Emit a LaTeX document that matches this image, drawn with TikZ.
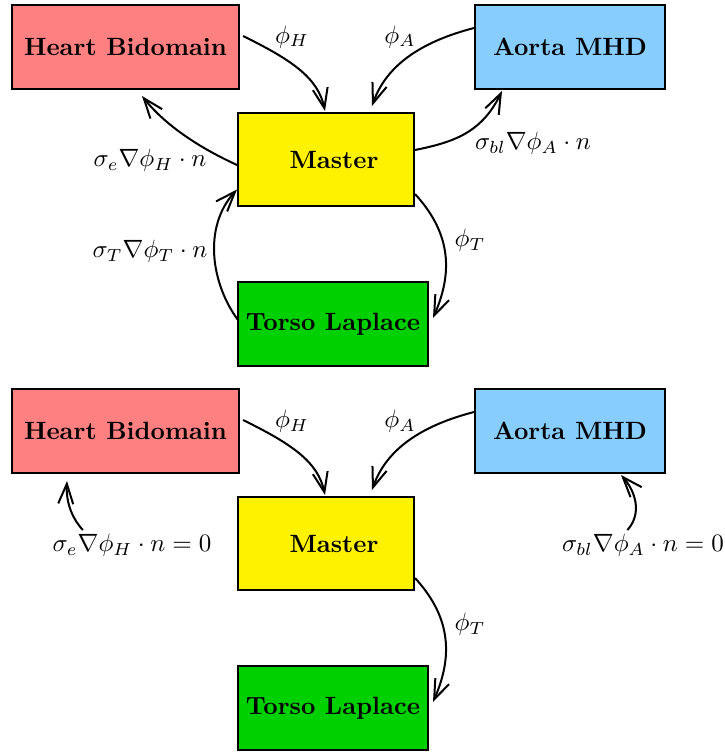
\documentclass[tikz,border=0pt]{standalone}
\usetikzlibrary{arrows.meta, calc}

\definecolor{heartred}{RGB}{255,128,128}
\definecolor{aortablue}{RGB}{135,206,255}
\definecolor{torsogreen}{RGB}{0,208,0}

\begin{document}
\begin{tikzpicture}[
        x=0.4pt, y=-0.4pt,
        every node/.style={font=\normalsize},
        >={Straight Barb[length=8pt, width=6pt]},
        solver/.style={draw, line width=0.8pt, inner sep=0pt, font=\bfseries},
        coupling/.style={->, line width=0.8pt}
    ]
    \def\px{0.4pt}
    \useasboundingbox (0,0) rectangle (725,753);

% ---------- TOP: full coupling ----------
    \node[solver, fill=heartred, minimum width=227*\px, minimum height=84*\px] (heart1) at (125.5,47) {Heart Bidomain};
    \node[solver, fill=aortablue, minimum width=190*\px, minimum height=84*\px] (aorta1) at (570,47) {Aorta MHD};
    \node[solver, fill=yellow, minimum width=176*\px, minimum height=93*\px] (master1) at (326,159.5) {\hspace{6.4pt}Master};
    \node[solver, fill=torsogreen, minimum width=190*\px, minimum height=84*\px] (torso1) at (333,324) {Torso Laplace};

    % potentials into the master
    \draw[coupling] ($(heart1.east)+(3,-11)$) .. controls (292,60) and (318,78) .. ($(master1.north)+(-1,-1)$);
    \node (potH1) at (292,37) {$\phi_H$};
    \draw[coupling] ($(aorta1.west)+(0,-19)$) .. controls (420,42) and (386,66) .. ($(master1.north)+(46,-6)$);
    \node (potA1) at (400,37) {$\phi_A$};
    \draw[coupling] ($(master1.south east)+(0,-13)$) .. controls (448,230) and (455,268) .. ($(torso1.east)+(4,-6)$);
    \node (potT1) at (470,240) {$\phi_T$};

    % fluxes back to the subdomains
    \draw[coupling] ($(master1.east)+(0,-9.5)$) .. controls (455,142) and (482,132) .. ($(aorta1.south west)+(28,1)$);
    \node (fluxA1) at (533,143) {$\sigma_{bl}\nabla\phi_A\cdot n$};
    \draw[coupling] ($(master1.west)+(0,5.5)$) .. controls (200,148) and (166,126) .. ($(heart1.south west)+(131,6)$);
    \node (fluxH1) at (150,160) {$\sigma_e\nabla\phi_H\cdot n$};
    \draw[coupling] ($(torso1.west)+(1,-4)$) .. controls (212,285) and (202,228) .. ($(master1.west)+(0,30)$);
    \node (fluxT1) at (150,251) {$\sigma_T\nabla\phi_T\cdot n$};

% ---------- BOTTOM: no-flux conditions ----------
    \begin{scope}[yshift=-384*\px]
        \node[solver, fill=heartred, minimum width=227*\px, minimum height=84*\px] (heart2) at (125.5,47) {Heart Bidomain};
        \node[solver, fill=aortablue, minimum width=190*\px, minimum height=84*\px] (aorta2) at (570,47) {Aorta MHD};
        \node[solver, fill=yellow, minimum width=176*\px, minimum height=93*\px] (master2) at (326,159.5) {\hspace{6.4pt}Master};
        \node[solver, fill=torsogreen, minimum width=190*\px, minimum height=84*\px] (torso2) at (333,324) {Torso Laplace};

        \draw[coupling] ($(heart2.east)+(3,-11)$) .. controls (292,60) and (318,78) .. ($(master2.north)+(-1,-1)$);
        \node (potH2) at (292,37) {$\phi_H$};
        \draw[coupling] ($(aorta2.west)+(0,-19)$) .. controls (420,42) and (386,66) .. ($(master2.north)+(46,-6)$);
        \node (potA2) at (400,37) {$\phi_A$};
        \draw[coupling] ($(master2.south east)+(0,-13)$) .. controls (448,230) and (455,268) .. ($(torso2.east)+(4,-6)$);
        \node (potT2) at (470,240) {$\phi_T$};

        % zero-flux boundaries
        \node (zeroH) at (132,161) {$\sigma_e\nabla\phi_H\cdot n=0$};
        \draw[coupling] ($(zeroH.north west)+(39,5)$) .. controls (70,132) and (66,115) .. ($(heart2.south west)+(56,7)$);
        \node (zeroA) at (643,161) {$\sigma_{bl}\nabla\phi_A\cdot n=0$};
        \draw[coupling] ($(zeroA.north west)+(74,5)$) .. controls (642,130) and (636,108) .. ($(aorta2.south west)+(147,1)$);
    \end{scope}

\end{tikzpicture}
\end{document}
